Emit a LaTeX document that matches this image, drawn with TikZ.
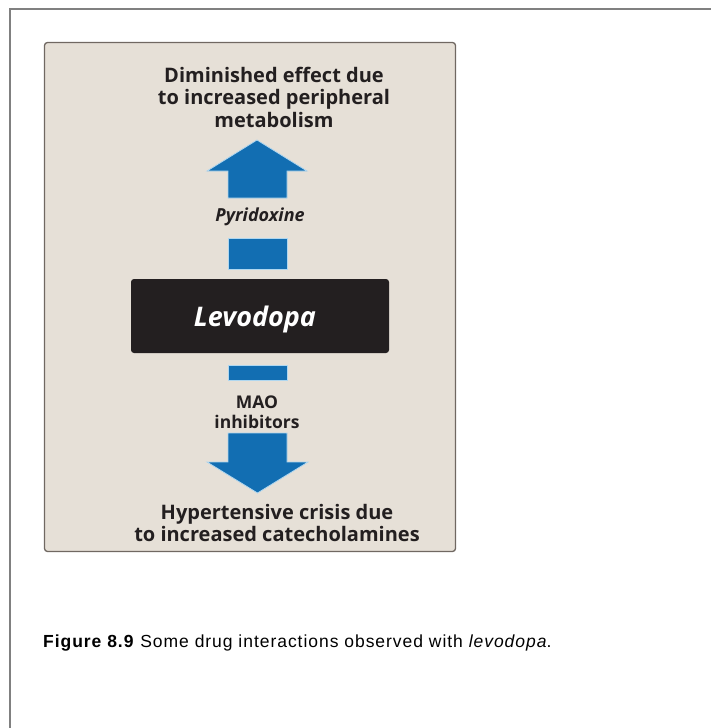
\documentclass[tikz,border=0pt]{standalone}
\usepackage{fontspec}
\setmainfont{Liberation Sans}
\newfontfamily\figfont{Open Sans}
\usetikzlibrary{calc}

\definecolor{panelfill}{RGB}{230,224,215}
\definecolor{paneledge}{RGB}{112,104,98}
\definecolor{arrowblue}{RGB}{18,110,178}
\definecolor{arrowglow}{RGB}{175,215,240}
\definecolor{inkblack}{RGB}{35,31,32}
\definecolor{framegray}{RGB}{128,128,128}

\begin{document}
\begin{tikzpicture}[x=1pt,y=-1pt,
  outcome/.style={font=\figfont\bfseries\fontsize{20}{22.5}\selectfont,
    text=inkblack,align=center,inner sep=0pt},
  agent/.style={font=\figfont\bfseries\fontsize{17.5}{20}\selectfont,
    text=inkblack,align=center,inner sep=0pt},
  drugbox/.style={fill=inkblack,rounded corners=3pt,minimum width=258pt,
    minimum height=74pt,text=white,inner sep=0pt},
  blockbar/.style={fill=arrowblue,draw=arrowglow,line width=.8pt,
    minimum width=59pt,inner sep=0pt},
  blockarrow/.style={fill=arrowblue,draw=arrowglow,line width=.8pt}]
 \useasboundingbox (0,0) rectangle (711,728);
 % outer frame, open at right and bottom
 \draw[framegray,line width=2.3pt] (10,728)--(10,9)--(711,9);
 \draw[paneledge,fill=panelfill,line width=1.3pt,rounded corners=3pt]
      (44.5,42.5) rectangle (455.5,551.5);

 \node[outcome] (effect) at (274,97)
      {Diminished effect due\\to increased peripheral\\metabolism};
 \coordinate (uptip) at (257,140);
 \draw[blockarrow] (uptip)--(307,171)--(287,171)--(287,198)
      --(228,198)--(228,171)--(207,171)--cycle;
 \node[agent,font=\figfont\bfseries\itshape\fontsize{18}{20}\selectfont]
      (pyridoxine) at (260,217) {Pyridoxine};
 \node[blockbar,minimum height=31pt] (upbar) at (257.5,253.5) {};

 \node[drugbox] (levodopa) at (260,316) {};
 \node[text=white,inner sep=0pt,
      font=\figfont\bfseries\itshape\fontsize{27}{30}\selectfont]
      (drugname) at ($(levodopa.center)+(-5,3)$) {Levodopa};

 \node[blockbar,minimum height=15pt] (downbar) at (257.5,372.5) {};
 \node[agent] (mao) at (257,412) {MAO\\inhibitors};
 \coordinate (downtip) at (257.5,493);
 \draw[blockarrow] (228,433)--(287,433)--(287,462)--(308,462)
      --(downtip)--(207,462)--(228,462)--cycle;
 \node[outcome] (crisis) at (277,523)
      {Hypertensive crisis due\\to increased catecholamines};

 \node[anchor=west,inner sep=0pt,font=\fontsize{17.5}{20}\selectfont
      \addfontfeature{LetterSpace=5.5}] (caption)
      at (43,643) {\textbf{Figure 8.9} Some drug interactions observed with
      \textit{levodopa}.};
\end{tikzpicture}
\end{document}
